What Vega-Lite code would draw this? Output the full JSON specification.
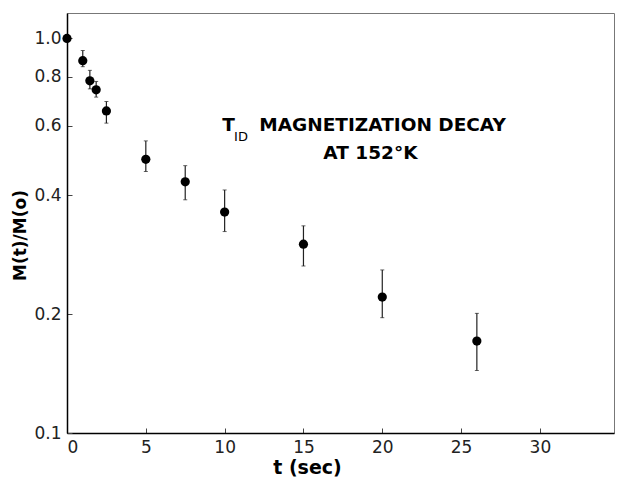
{
  "$schema": "https://vega.github.io/schema/vega-lite/v6.json",
  "width": 547,
  "height": 420,
  "autosize": {"type": "none"},
  "padding": {"left": 67, "top": 13, "right": 7, "bottom": 47},
  "background": "white",
  "config": {
    "view": {"stroke": "#777", "strokeWidth": 1},
    "axis": {"grid": false, "domainColor": "black", "domainWidth": 1.5, "tickColor": "#444", "labelColor": "#222", "titleColor": "black", "labelFont": "DejaVu Sans", "titleFont": "DejaVu Sans"}
  },
  "datasets": {
    "pts": [
      {"t": 0, "m": 1.0, "lo": null, "hi": null},
      {"t": 1.0, "m": 0.878, "lo": 0.848, "hi": 0.932},
      {"t": 1.45, "m": 0.781, "lo": 0.745, "hi": 0.83},
      {"t": 1.85, "m": 0.741, "lo": 0.71, "hi": 0.778},
      {"t": 2.5, "m": 0.655, "lo": 0.61, "hi": 0.692},
      {"t": 5, "m": 0.494, "lo": 0.46, "hi": 0.55},
      {"t": 7.5, "m": 0.433, "lo": 0.39, "hi": 0.476},
      {"t": 10, "m": 0.363, "lo": 0.324, "hi": 0.413},
      {"t": 15, "m": 0.301, "lo": 0.265, "hi": 0.335},
      {"t": 20, "m": 0.221, "lo": 0.196, "hi": 0.259},
      {"t": 26, "m": 0.171, "lo": 0.144, "hi": 0.201}
    ],
    "notes": [
      {"t": 9.85, "m": 0.604, "label": "T", "kind": "big", "al": "left"},
      {"t": 12.2, "m": 0.604, "label": "MAGNETIZATION DECAY", "kind": "big", "al": "left"},
      {"t": 19.25, "m": 0.513, "label": "AT 152°K", "kind": "big2", "al": "center"},
      {"t": 10.6, "m": 0.562, "label": "ID", "kind": "sub", "al": "left"}
    ]
  },
  "layer": [
    {
      "data": {"name": "pts"},
      "transform": [{"filter": "datum.lo != null"}],
      "mark": {"type": "rule", "color": "#222", "strokeWidth": 1.2},
      "encoding": {
        "x": {"field": "t", "type": "quantitative", "scale": {"domain": [0, 34.7], "nice": false, "zero": false},
          "axis": {"values": [0, 5, 10, 15, 20, 25, 30], "format": "d", "title": "t (sec)", "titleFontSize": 19, "titleFontWeight": "bold", "titleX": 240, "titleY": 40, "titleBaseline": "alphabetic", "labelFontSize": 17, "labelPadding": 11, "tickSize": -5, "tickWidth": 1}},
        "y": {"field": "lo", "type": "quantitative", "scale": {"type": "log", "domain": [0.1, 1.16], "nice": false},
          "axis": {"values": [0.1, 0.2, 0.4, 0.6, 0.8, 1.0], "format": ".1f", "title": "M(t)/M(o)", "titleFontSize": 17, "titleFontWeight": "bold", "titleX": -47, "titleY": 222, "titleAngle": -90, "titleBaseline": "middle", "titleAlign": "center", "labelFontSize": 17, "labelPadding": 11, "tickSize": -5, "tickWidth": 1}},
        "y2": {"field": "hi"}
      }
    },
    {
      "data": {"name": "pts"},
      "transform": [{"filter": "datum.lo != null"}],
      "mark": {"type": "tick", "orient": "horizontal", "color": "#222", "size": 4, "thickness": 1},
      "encoding": {
        "x": {"field": "t", "type": "quantitative"},
        "y": {"field": "lo", "type": "quantitative"}
      }
    },
    {
      "data": {"name": "pts"},
      "transform": [{"filter": "datum.hi != null"}],
      "mark": {"type": "tick", "orient": "horizontal", "color": "#222", "size": 4, "thickness": 1},
      "encoding": {
        "x": {"field": "t", "type": "quantitative"},
        "y": {"field": "hi", "type": "quantitative"}
      }
    },
    {
      "data": {"name": "pts"},
      "mark": {"type": "point", "filled": true, "color": "black", "opacity": 1, "size": 85},
      "encoding": {
        "x": {"field": "t", "type": "quantitative"},
        "y": {"field": "m", "type": "quantitative"}
      }
    },
    {
      "data": {"name": "notes"},
      "transform": [{"filter": "datum.kind == 'big'"}],
      "mark": {"type": "text", "align": "left", "baseline": "middle", "font": "DejaVu Sans", "fontWeight": "bold", "fontSize": 18.5, "color": "black"},
      "encoding": {
        "x": {"field": "t", "type": "quantitative"},
        "y": {"field": "m", "type": "quantitative"},
        "text": {"field": "label"}
      }
    },
    {
      "data": {"name": "notes"},
      "transform": [{"filter": "datum.kind == 'big2'"}],
      "mark": {"type": "text", "align": "center", "baseline": "middle", "font": "DejaVu Sans", "fontWeight": "bold", "fontSize": 18.5, "color": "black"},
      "encoding": {
        "x": {"field": "t", "type": "quantitative"},
        "y": {"field": "m", "type": "quantitative"},
        "text": {"field": "label"}
      }
    },
    {
      "data": {"name": "notes"},
      "transform": [{"filter": "datum.kind == 'sub'"}],
      "mark": {"type": "text", "align": "left", "baseline": "middle", "font": "DejaVu Sans", "fontSize": 13, "color": "black"},
      "encoding": {
        "x": {"field": "t", "type": "quantitative"},
        "y": {"field": "m", "type": "quantitative"},
        "text": {"field": "label"}
      }
    }
  ]
}
